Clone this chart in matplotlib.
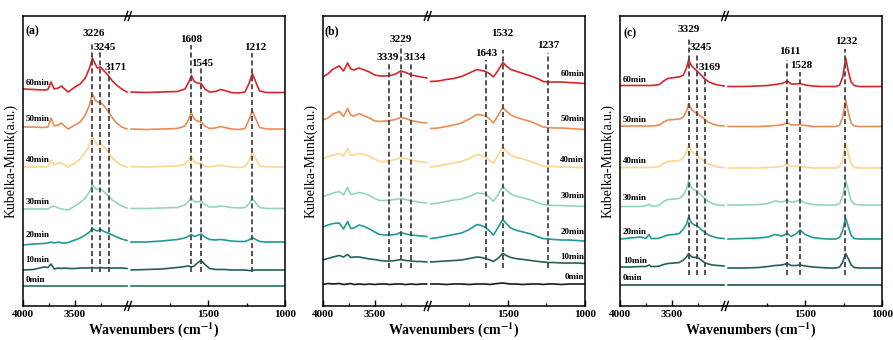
import matplotlib.pyplot as plt
from matplotlib.ticker import FixedLocator

plt.rcParams['font.family'] = 'Liberation Serif'
plt.rcParams['font.weight'] = 'bold'
plt.rcParams['mathtext.fontset'] = 'stix'

times = ['0min', '10min', '20min', '30min', '40min', '50min', '60min']
colors = ['#2b6e6b', '#235f5b', '#1f9a95', '#93d5bb', '#fdd68c', '#ec8b55', '#d7262b']

# ---- panel (a) ----
a_left_x = [4000, 3900, 3800, 3760, 3730, 3700, 3660, 3630, 3600, 3565, 3500, 3450,
            3400, 3360, 3333, 3300, 3285, 3255, 3220, 3183, 3140, 3100, 3050, 3000]
a_left_y = [
    [20, 20, 20, 20, 20, 20, 20, 20, 20, 20, 20, 20, 20, 20, 20, 20, 20, 20, 20, 20, 20, 20, 20, 20],
    [36, 36.5, 39, 38.5, 42, 37, 38, 37.5, 38, 37.5, 37.5, 38, 38, 38, 38.5, 38, 38, 38.5, 38, 38, 38, 38, 38, 37.5],
    [61, 62, 62.5, 63, 64, 63, 64, 63, 63, 63.5, 66, 68, 71, 74, 77.5, 75.5, 75, 76.5, 74.5, 73, 71, 69, 67, 65.5],
    [97, 97, 97, 97, 99, 100, 98, 97, 96.5, 96, 100, 103.5, 108, 114, 121.5, 117, 116.5, 117.5, 114, 110.5, 106, 103, 100, 98],
    [139, 139, 139, 139.5, 146, 141, 143, 143, 141, 139, 143, 147, 154, 161, 169, 163, 161, 162.5, 159, 154, 148, 144, 140.5, 139],
    [179, 179, 178.5, 179, 188, 180, 181, 183, 180, 177, 181, 184, 191, 201, 212, 205, 204, 204, 200, 195, 188, 183, 179, 177],
    [217, 216.5, 216, 216.5, 224, 217, 218, 220, 217, 214, 219, 222, 228, 238, 248, 241, 238, 239, 235, 231, 225, 221, 217, 214],
]
a_right_x = [2000, 1900, 1800, 1700, 1650, 1625, 1608, 1590, 1570, 1545, 1520, 1490, 1450,
             1420, 1390, 1350, 1300, 1260, 1235, 1212, 1190, 1165, 1120, 1050, 1000]
a_right_y = [
    [20, 20, 20, 20, 20, 20, 20, 20, 20, 20, 20, 20, 20, 20, 20, 20, 20, 20, 20, 20, 20, 20, 20, 20, 20],
    [36, 36.5, 37, 38.5, 39.5, 40, 39, 40, 43, 45.5, 41.5, 37.5, 36.5, 36.5, 36.5, 36, 36, 36, 35.5, 35.5, 36, 36, 36, 36, 36],
    [64, 64, 65, 66.5, 68, 70, 71.5, 69.5, 70.5, 72, 69, 66.5, 66, 66.5, 66, 65, 64.5, 64.5, 66, 68.5, 66.5, 64.5, 64, 64, 64],
    [97.5, 97.5, 98, 98.5, 101, 105, 108, 104.5, 104, 105, 101.5, 99, 99, 100, 99.5, 98.5, 98, 98.5, 102, 107.5, 103, 98.5, 97.5, 97.5, 97.5],
    [139.5, 139, 139.5, 140, 141.5, 146, 150, 144.5, 142.5, 142, 140, 139, 140, 141, 140, 139, 138.5, 139.5, 145, 154, 147, 140, 139, 139, 139],
    [177, 176.5, 177, 177.5, 180, 187, 193, 187, 185, 184, 180, 177.5, 178, 179.5, 178.5, 177, 176.5, 177.5, 186, 195.5, 187, 178.5, 177, 177, 177],
    [214, 213.5, 214, 214.5, 217, 224, 230.5, 224.5, 223, 222.5, 217, 214, 214.5, 216.5, 215.5, 213.5, 213, 214, 222, 232.5, 224, 215, 213.5, 213.5, 213.5],
]
a_peaks_left = [3333, 3256, 3173]
a_peaks_right = [1608, 1545, 1212]
a_labels_left = ['3226', '3245', '3171']
a_labels_right = ['1608', '1545', '1212']

# ---- panel (b) ----
b_left_x = [4000, 3950, 3900, 3840, 3800, 3760, 3730, 3700, 3650, 3600, 3550,
            3500, 3450, 3400, 3350, 3300, 3250, 3200, 3150, 3100, 3050, 3000]
b_left_y = [
    [21.5, 22.5, 22, 22.5, 21.5, 22, 22.5, 21.5, 22, 21.5, 22, 21.5, 22, 22, 21.5, 22, 22, 21.5, 22, 21.5, 22, 22],
    [46, 47.5, 49, 50.5, 49, 51.5, 48.5, 49, 49, 48, 47, 46.5, 45.5, 45, 45, 45.5, 46.5, 45.5, 45, 44.5, 44.5, 44],
    [79, 81, 82.5, 83, 77, 84.5, 77.5, 78, 81, 79.5, 77, 74, 71.5, 71, 71, 71.5, 73.5, 72, 71, 70.5, 70, 69.5],
    [109.5, 111, 113, 114.5, 111, 118.5, 111.5, 112, 113.5, 112.5, 110.5, 107.5, 105.5, 105.5, 106, 106.5, 107.5, 106.5, 105, 104.5, 103.5, 103],
    [147.5, 149, 151, 152.5, 150, 157.5, 150.5, 151, 152.5, 151.5, 149.5, 147, 144.5, 144.5, 145.5, 146.5, 148.5, 147.5, 146, 145, 144, 143.5],
    [186, 188, 192, 194.5, 189.5, 197.5, 191, 190, 192.5, 190, 188, 185, 184.5, 185, 185.5, 186.5, 188.5, 187.5, 185.5, 184.5, 183.5, 183],
    [229, 232, 237, 240, 235, 243, 237, 236, 238, 236, 234, 231, 230, 230, 230.5, 232, 235, 233.5, 231, 230, 229, 228],
]
b_right_x = [2000, 1950, 1900, 1850, 1800, 1750, 1700, 1670, 1643, 1615, 1593, 1565, 1532,
             1510, 1480, 1450, 1400, 1350, 1300, 1270, 1237, 1200, 1150, 1100, 1050, 1000]
b_right_y = [
    [22, 22, 21.5, 22, 22, 21.5, 22, 22, 22, 21.5, 22, 22.5, 23, 22.5, 22, 22, 21.5, 22, 22, 21.5, 22, 22, 21.5, 22, 22, 22],
    [44, 44.5, 45, 45.5, 46, 47.5, 49, 48.5, 47.5, 46, 44.5, 47.5, 52.5, 50.5, 48.5, 47.5, 46.5, 45.5, 44.5, 44, 43.5, 43.5, 43, 43, 43, 42.5],
    [67.5, 68.5, 70, 71.5, 73, 76.5, 81.5, 80.5, 78.5, 74.5, 71, 78, 86.5, 82.5, 78, 76, 74, 72, 69, 67.5, 67, 66.5, 66, 66, 65.5, 65],
    [102, 103, 104.5, 106, 107, 109.5, 113, 112.5, 112, 108, 104.5, 111, 120, 116, 112, 110, 108, 106, 103, 101.5, 101, 100.5, 100.5, 100, 100, 99.5],
    [139, 140, 141.5, 143, 144.5, 147.5, 151.5, 150.5, 148.5, 145.5, 143, 150, 159, 155, 151, 149, 147, 144.5, 141.5, 140, 139.5, 139.5, 139, 139, 138.5, 138.5],
    [177.5, 178, 179.5, 181, 183, 187, 191.5, 191, 190, 186.5, 183, 190, 198.5, 195, 191, 189, 186.5, 184.5, 181, 179, 178.5, 178, 178, 177.5, 177, 176.5],
    [224.5, 225, 226.5, 227.5, 229.5, 233, 236.5, 235.5, 234.5, 232, 229, 235, 243.5, 240, 236.5, 235, 232.5, 230, 227, 224.5, 224, 224, 224, 223.5, 223, 222.5],
]
b_peaks_left = [3360, 3247, 3151]
b_peaks_right = [1643, 1534, 1238]
b_labels_left = ['3339', '3229', '3134']
b_labels_right = ['1643', '1532', '1237']

# ---- panel (c) ----
c_left_x = [4000, 3900, 3800, 3750, 3720, 3700, 3650, 3620, 3580, 3540, 3480, 3430,
            3390, 3360, 3340, 3310, 3285, 3255, 3220, 3189, 3150, 3110, 3060, 3000]
c_left_y = [
    [21, 21, 21, 21, 21, 21, 21, 21, 21, 21, 21, 21, 21, 21, 21, 21, 21, 21, 21, 21, 21, 21, 21, 21],
    [39, 39, 39.5, 39.5, 41, 39.5, 39.5, 40, 41.5, 42.5, 43, 43.5, 46, 49, 52.5, 49, 48.5, 49, 46, 43.5, 42, 41, 40.5, 40],
    [67, 68, 69, 67.5, 71.5, 67.5, 67.5, 68, 69.5, 71, 71.5, 72.5, 77, 82, 89, 83, 81, 80, 76.5, 74, 71, 69.5, 68, 67.5],
    [99.5, 99.5, 99.5, 100.5, 102, 100, 100, 101, 104.5, 106.5, 107, 107.5, 111, 117, 125, 118, 116, 114.5, 111, 107.5, 104.5, 102.5, 101, 100.5],
    [138.5, 138.5, 138.5, 138.5, 138.5, 138.5, 139, 139.5, 142.5, 144.5, 145, 145.5, 148, 154, 161.5, 155, 152.5, 151, 147.5, 144.5, 142, 140.5, 139, 138.5],
    [180, 180, 180, 180, 180, 180, 180.5, 181, 184, 186, 186.5, 187, 189, 195, 202.5, 196.5, 194, 192.5, 189.5, 187, 184, 182, 180.5, 180],
    [220.5, 220.5, 220.5, 220.5, 220.5, 220.5, 221, 221.5, 225, 227.5, 228.5, 229, 231, 238, 246, 240, 237.5, 234.5, 231, 227.5, 224.5, 222.5, 221, 220],
]
c_right_x = [2000, 1900, 1800, 1740, 1695, 1650, 1615, 1590, 1560, 1532, 1500, 1450, 1400,
             1350, 1300, 1275, 1255, 1236, 1218, 1200, 1180, 1150, 1100, 1050, 1000]
c_right_y = [
    [21, 21, 21, 21, 21, 21, 21, 21, 21, 21, 21, 21, 21, 21, 21, 21, 21, 21, 21, 21, 21, 21, 21, 21, 21],
    [38, 38, 38.5, 39.5, 40.5, 41, 42.5, 40.5, 40.5, 41, 40, 39, 38.5, 38, 38, 39, 44, 52.5, 47, 41, 38.5, 38, 38, 38, 38],
    [67, 67.5, 68, 69, 71.5, 70, 72.5, 69.5, 72, 76, 71.5, 68.5, 67.5, 67, 67, 68.5, 76, 88, 79, 70.5, 67.5, 67, 67, 67, 67],
    [101, 101, 101.5, 102.5, 105, 104, 106, 103.5, 104.5, 106, 103, 101.5, 101, 101, 101, 102.5, 110, 126, 115, 105.5, 102, 101, 101, 101, 101],
    [138, 138, 138, 138.5, 139, 139.5, 142.5, 139.5, 139.5, 140, 139, 138, 138, 138, 138, 139.5, 147, 163.5, 152, 142, 138.5, 138, 138, 138, 138],
    [179.5, 179.5, 179.5, 180, 180.5, 181, 183.5, 181, 181, 181.5, 180.5, 179.5, 179.5, 179.5, 179.5, 181, 189, 206, 193, 183, 180, 179.5, 179.5, 179.5, 179.5],
    [219.5, 219.5, 220, 220.5, 221.5, 222.5, 225, 222, 222, 222.5, 221, 220, 219.5, 219.5, 219.5, 221, 229, 248, 234, 224, 220.5, 219.5, 219.5, 219.5, 219.5],
]
c_peaks_left = [3334, 3257, 3183]
c_peaks_right = [1617, 1535, 1238]
c_labels_left = ['3329', '3245', '3169']
c_labels_right = ['1611', '1528', '1232']

W, H = 893, 340
fig = plt.figure(figsize=(W / 100, H / 100), dpi=100)


def px_axes(x0, w):
    return fig.add_axes([x0 / W, 34 / H, w / W, 290 / H])


def draw_panel(x0, tag, xl, yl, xr, yr, pk_l, pk_r, lab_l, lab_r,
               tops_l, tops_r, bottom, labpos_l, labpos_r,
               tpos, tx, t_on_right, zero_color, tag_xy):
    axl = px_axes(x0, 105)
    axr = px_axes(x0 + 105, 157)
    axl.set_xlim(4000, 2990)
    axr.set_xlim(2020, 1000)
    for ax in (axl, axr):
        ax.set_ylim(0, 290)
        ax.set_yticks([])
        ax.tick_params(axis='x', direction='in', length=4, width=1, labelsize=8, pad=3)
        ax.tick_params(axis='x', which='minor', direction='in', length=2.5, width=1)
        for s in ax.spines.values():
            s.set_linewidth(1.1)
    axl.spines['right'].set_visible(False)
    axr.spines['left'].set_visible(False)
    axl.xaxis.set_major_locator(FixedLocator([4000, 3500]))
    axl.xaxis.set_minor_locator(FixedLocator([3750, 3250]))
    axr.xaxis.set_major_locator(FixedLocator([1500, 1000]))
    axr.xaxis.set_minor_locator(FixedLocator([1750, 1250]))

    for i, t in enumerate(times):
        c = zero_color if i == 0 else colors[i]
        axl.plot(xl, yl[i], color=c, lw=1.2)
        axr.plot(xr, yr[i], color=c, lw=1.2)
        if t_on_right:
            axr.text(tx, tpos[i], t, ha='right', va='center', fontsize=6.5)
        else:
            axl.text(tx, tpos[i], t, ha='left', va='center', fontsize=6.5)

    dash = (0, (2.8, 1.6))
    for ax, pks, tops, labs, lp in ((axl, pk_l, tops_l, lab_l, labpos_l),
                                    (axr, pk_r, tops_r, lab_r, labpos_r)):
        for p, top, lab, (lx, ly) in zip(pks, tops, labs, lp):
            ax.plot([p, p], [bottom, top], color='#454545', lw=1.3, ls=dash)
            ax.text(lx, ly, lab, ha='center', va='center', fontsize=8)

    axl.text(tag_xy[0], tag_xy[1], tag, ha='left', va='center', fontsize=8.5)
    axl.set_ylabel('Kubelka-Munk(a.u.)', fontsize=10, labelpad=4)

    # break marks
    dx, dy = 1.6 / 157, 4.5 / 290
    for yb in (0, 1):
        for off in (-1.8 / 157, 1.8 / 157):
            axr.plot([off - dx, off + dx], [yb - dy, yb + dy], color='k', lw=1,
                     transform=axr.transAxes, clip_on=False)

    fig.text((x0 + 131) / W, 10 / H, r'Wavenumbers (cm$^{\mathbf{-1}}$)',
             ha='center', va='center', fontsize=10)


draw_panel(23, '(a)', a_left_x, a_left_y, a_right_x, a_right_y,
           a_peaks_left, a_peaks_right, a_labels_left, a_labels_right,
           [263, 254, 235], [261, 238, 253], 34,
           [(3320, 273), (3214, 258), (3109, 239)], [(1607, 267), (1539, 243), (1195, 258)],
           [26, 46, 71, 104, 146, 187, 223], 3975, False, '#2b6e6b', (3975, 275))

draw_panel(322.7, '(b)', b_left_x, b_left_y, b_right_x, b_right_y,
           b_peaks_left, b_peaks_right, b_labels_left, b_labels_right,
           [243, 261, 243], [246, 256, 253], 38,
           [(3372, 249), (3247, 267), (3112, 249)], [(1640, 252), (1534, 273), (1234, 261)],
           [29, 49, 74, 110, 146, 187, 232], 1003, True, '#1a1a1a', (3978, 275))

draw_panel(620, '(c)', c_left_x, c_left_y, c_right_x, c_right_y,
           c_peaks_left, c_peaks_right, c_labels_left, c_labels_right,
           [269, 253, 234], [246, 234, 257], 31,
           [(3337, 277), (3221, 258), (3135, 239)], [(1602, 254), (1524, 240), (1232, 264)],
           [28, 45, 74, 108, 145, 186, 226], 3971, False, '#24524f', (3962, 273))

fig.savefig('out.png', dpi=100)
